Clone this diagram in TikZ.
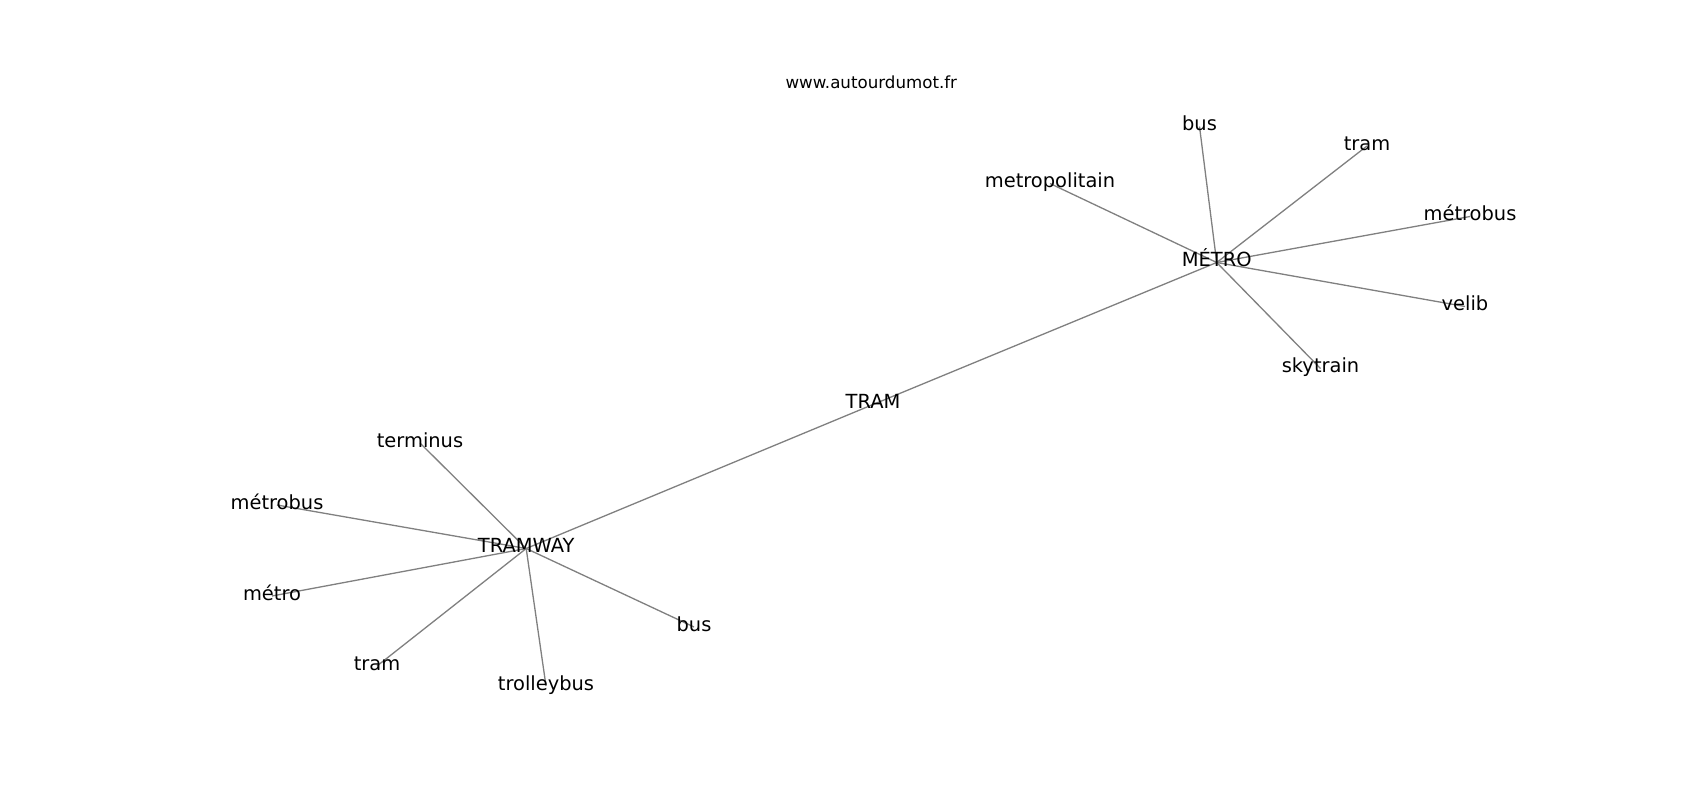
\documentclass[tikz,border=0pt]{standalone}
\usepackage{fontspec}
\setmainfont{DejaVu Sans}
\usetikzlibrary{backgrounds}
\begin{document}
\begin{tikzpicture}[x=1pt,y=-1pt,
  lbl/.style={inner sep=0pt, text height=1.0em, text depth=0.14em, anchor=center,
              font=\fontsize{19.44}{23}\selectfont},
  urltext/.style={inner sep=0pt, text height=0.76em, text depth=0.24em, anchor=center,
              font=\fontsize{16.67}{20}\selectfont},
  edge/.style={draw=gray, line width=1.3pt}]
\useasboundingbox (0,0) rectangle (1700,800);

\node[urltext] (url) at (871.3,86) {www.autourdumot.fr};

% hubs
\node[lbl] (metro) at (1216.7,262.5) {MÉTRO};
\node[lbl] (tram) at (873,404.5) {TRAM};
\node[lbl] (tramway) at (526.2,548.5) {TRAMWAY};

% MÉTRO neighbours
\node[lbl] (mbus) at (1199.5,126.5) {bus};
\node[lbl] (mtram) at (1367,146) {tram};
\node[lbl] (mmetropolitain) at (1050,183.5) {metropolitain};
\node[lbl] (mmetrobus) at (1470,216.5) {métrobus};
\node[lbl] (mvelib) at (1465,306.5) {velib};
\node[lbl] (mskytrain) at (1320.5,368.5) {skytrain};

% TRAMWAY neighbours
\node[lbl] (tterminus) at (420,443) {terminus};
\node[lbl] (tmetrobus) at (277,505) {métrobus};
\node[lbl] (tmetro) at (272,596) {métro};
\node[lbl] (tbus) at (694,627) {bus};
\node[lbl] (ttram) at (377,666) {tram};
\node[lbl] (ttrolleybus) at (546,686) {trolleybus};

\begin{pgfonlayer}{background}
\fill[white] (0,0) rectangle (1700,800);
\foreach \n in {mbus,mtram,mmetropolitain,mmetrobus,mvelib,mskytrain,tram}
  \draw[edge] (metro.center) -- (\n.center);
\foreach \n in {tterminus,tmetrobus,tmetro,tbus,ttram,ttrolleybus,tram}
  \draw[edge] (tramway.center) -- (\n.center);
\end{pgfonlayer}
\end{tikzpicture}
\end{document}
